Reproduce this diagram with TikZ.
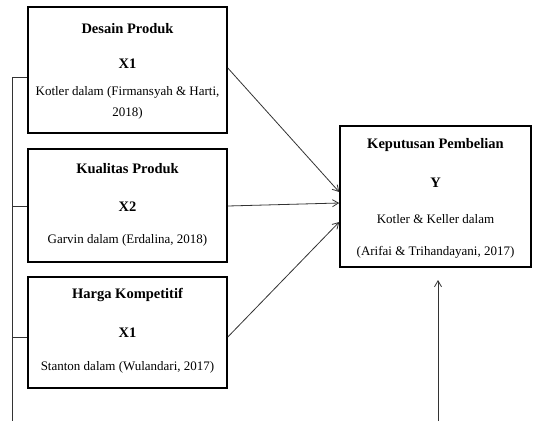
\documentclass[tikz,border=0pt]{standalone}
\usepackage{fontspec}
\setmainfont{Liberation Serif}
\usetikzlibrary{arrows.meta}

\begin{document}
\begin{tikzpicture}[x=1pt,y=-1pt,>={Straight Barb[length=6pt,width=7pt]},
  box/.style={draw,line width=1.6pt,inner sep=0pt},
  head/.style={font=\fontsize{14.5}{16}\selectfont\bfseries},
  body/.style={font=\fontsize{13}{15}\selectfont},
  link/.style={draw=black!80,line width=0.8pt}]
  \useasboundingbox (0,0) rectangle (533,421);
  % independent variables
  \node[box,minimum width=199pt,minimum height=126pt] (desain) at (127.5,70) {};
  \node[head] (desainT) at (127.5,29) {Desain Produk};
  \node[head] (desainX) at (127.5,64) {X1};
  \node[body] (desainR) at (127.5,92) {Kotler dalam (Firmansyah \& Harti,};
  \node[body] (desainY) at (127.5,113) {2018)};
  \node[box,minimum width=199pt,minimum height=113pt] (kualitas) at (127.5,205.5) {};
  \node[head] (kualitasT) at (127.5,169) {Kualitas Produk};
  \node[head] (kualitasX) at (127.5,207) {X2};
  \node[body] (kualitasR) at (127.5,240) {Garvin dalam (Erdalina, 2018)};
  \node[box,minimum width=199pt,minimum height=111pt] (harga) at (127.5,332.5) {};
  \node[head] (hargaT) at (127.5,295) {Harga Kompetitif};
  \node[head] (hargaX) at (127.5,333) {X1};
  \node[body] (hargaR) at (127.5,367) {Stanton dalam (Wulandari, 2017)};
  % dependent variable
  \node[box,minimum width=191pt,minimum height=141pt] (keputusan) at (435.5,196.5) {};
  \node[head] (keputusanT) at (435.5,145) {Keputusan Pembelian};
  \node[head] (keputusanY) at (435.5,183) {Y};
  \node[body] (keputusanR) at (435.5,219) {Kotler \& Keller dalam};
  \node[body] (keputusanS) at (435.5,252) {(Arifai \& Trihandayani, 2017)};
  % partial arrows
  \draw[link,->] (desain.east |- 0,68) -- (keputusan.west |- 0,192);
  \draw[link,->] (kualitas.east |- 0,206) -- (keputusan.west |- 0,203);
  \draw[link,->] (harga.east |- 0,337) -- (keputusan.west |- 0,222);
  % simultaneous line
  \coordinate (railTop) at (12,77);
  \coordinate (railEnd) at (12,421);
  \coordinate (simEnd) at (438,421);
  \coordinate (simTip) at (438,280);
  \draw[link] (railTop) -- (railEnd);
  \draw[link] (railTop) -- (desain.west |- railTop);
  \draw[link] (railTop |- 0,206) -- (kualitas.west |- 0,206);
  \draw[link] (railTop |- 0,337) -- (harga.west |- 0,337);
  \draw[link,->] (simEnd) -- (simTip);
\end{tikzpicture}
\end{document}
